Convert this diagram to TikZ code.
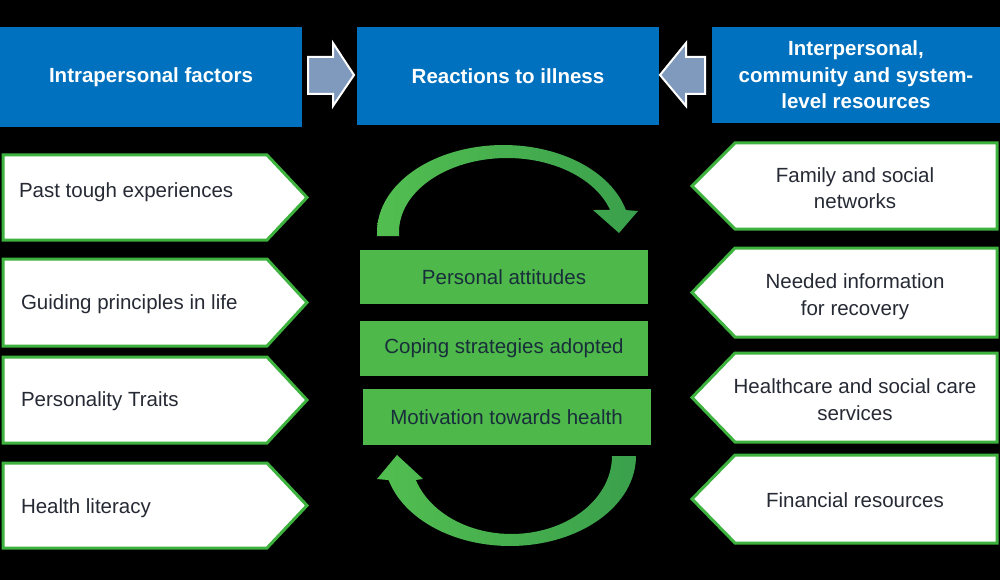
\documentclass[tikz,border=0pt]{standalone}
\usepackage{fontspec}
\setmainfont{Liberation Sans}
\definecolor{myblue}{RGB}{0,113,190}
\definecolor{arrowgray}{RGB}{128,154,190}
\definecolor{boxgreen}{RGB}{62,178,62}
\definecolor{fillgreen}{RGB}{78,184,74}
\definecolor{arcA}{RGB}{82,190,80}
\definecolor{arcB}{RGB}{58,160,76}
\definecolor{greentext}{RGB}{24,46,58}
\definecolor{boxtext}{RGB}{38,42,52}
\begin{document}
\begin{tikzpicture}[x=1pt,y=-1pt,
  every node/.style={inner sep=0pt, outer sep=0pt},
  txt/.style={font=\fontsize{20.5}{26.5}\selectfont},
  bluebox/.style={fill=myblue, txt, text=white, font=\fontsize{20.5}{26.5}\selectfont\bfseries, align=center},
  blockarrow/.style={fill=arrowgray, draw=white, line width=2pt, line join=miter},
  pentbox/.style={fill=white, draw=boxgreen, line width=3pt, line join=miter},
  lefttext/.style={txt, text=boxtext, anchor=west},
  righttext/.style={txt, text=boxtext, align=center},
  greenbox/.style={fill=fillgreen, txt, text=greentext, minimum width=288pt},
  cyclearrow/.style={left color=arcA, right color=arcB}
]
\fill[black] (0,0) rectangle (1000,580);
\useasboundingbox (0,0) rectangle (1000,580);

% top blue boxes
\node[bluebox, minimum width=302pt, minimum height=100pt] (intra) at (151,77) {Intrapersonal factors};
\node[bluebox, minimum width=302pt, minimum height=98pt] (react) at (508,76) {Reactions to illness};
\node[bluebox, minimum width=288pt, minimum height=96pt] (inter) at (856,75) {Interpersonal,\\community and system-\\level resources};

% block arrows
\draw[blockarrow] (308,57) -- (333,57) -- (333,43) -- (354,75) -- (333,106) -- (333,94) -- (308,94) -- cycle;
\draw[blockarrow] (705,57) -- (686,57) -- (686,43) -- (660,75) -- (686,106) -- (686,94) -- (705,94) -- cycle;

% left pentagon boxes
\foreach \t/\b in {155/240, 259/346, 357/443, 463/548}{
  \draw[pentbox] (3,\t) -- (267,\t) -- (307,{(\t+\b)/2}) -- (267,\b) -- (3,\b) -- cycle;
}
\node[lefttext] (past) at (19,192) {Past tough experiences};
\node[lefttext] (guide) at (21,304) {Guiding principles in life};
\node[lefttext] (pers) at (21,401) {Personality Traits};
\node[lefttext] (lit) at (21,508) {Health literacy};

% right pentagon boxes
\foreach \t/\b in {143/229, 248/337, 353/442, 455/543}{
  \draw[pentbox] (997,\t) -- (735,\t) -- (692,{(\t+\b)/2}) -- (735,\b) -- (997,\b) -- cycle;
}
\node[righttext] (family) at (855,188) {Family and social\\networks};
\node[righttext] (info) at (855,296.5) {Needed information\\for recovery};
\node[righttext] (care) at (855,399.5) {Healthcare and social care\\services};
\node[righttext] (fin) at (855,500) {Financial resources};

% green boxes
\node[greenbox, minimum height=54pt] (att) at (504,277) {Personal attitudes};
\node[greenbox, minimum height=55pt] (cope) at (504,348.5) {Coping strategies adopted};
\node[greenbox, minimum height=56pt] (motiv) at (506.5,417) {Motivation towards health};

% cycle arrows
\shade[cyclearrow] (377,236) -- plot[domain=180:345.4, samples=60] ({503.5+126.5*cos(\x)},{232+87*sin(\x)})
  -- (638,211) -- (619,233) -- (593,210)
  -- plot[domain=342.7:180, samples=60] ({507+108*cos(\x)},{232+74*sin(\x)}) -- (399,236) -- cycle;
\shade[cyclearrow] (612,456) -- (636,456) -- plot[domain=0:164.5, samples=60] ({510+126*cos(\x)},{456+90*sin(\x)})
  -- (377,479) -- (397,455) -- (423,479)
  -- plot[domain=162.1:0, samples=60] ({511.5+100.5*cos(\x)},{456+78*sin(\x)}) -- cycle;
\end{tikzpicture}
\end{document}
